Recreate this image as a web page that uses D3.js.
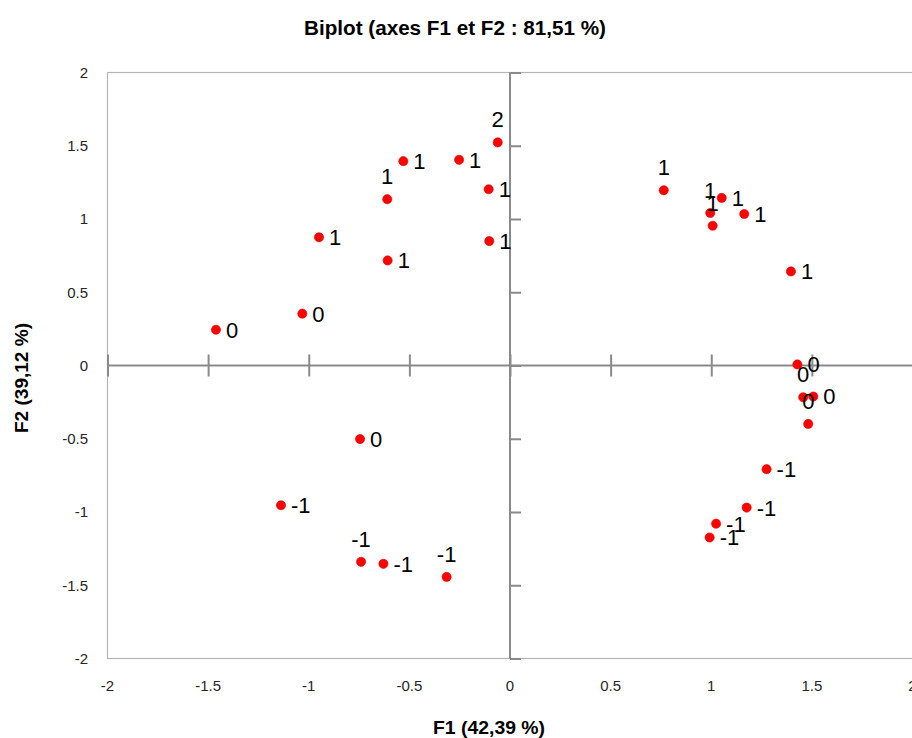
<!DOCTYPE html>
<html><head><meta charset="utf-8">
<script src="https://cdn.jsdelivr.net/npm/d3@7"></script>
<style>
html,body{margin:0;padding:0;background:#fff;overflow:hidden;}
svg{display:block;}
</style></head>
<body>
<svg id="chart" width="912" height="738"></svg>
<script>
// ---- data ----
const f1 = [-1.461,-1.032,-0.949,-0.608,-0.610,-0.530,-0.253,-0.106,-0.103,-0.061,
             0.764, 1.052, 0.995, 1.007, 1.164, 1.396, 1.428, 1.457, 1.507, 1.482,
             1.275, 1.176, 1.024, 0.992,-0.745,-1.138,-0.740,-0.629,-0.315];
const f2 = [ 0.244, 0.354, 0.875, 0.717, 1.135, 1.395, 1.404, 1.203, 0.849, 1.523,
             1.196, 1.144, 1.041, 0.954, 1.034, 0.642, 0.007,-0.217,-0.212,-0.399,
            -0.708,-0.970,-1.080,-1.174,-0.502,-0.954,-1.340,-1.354,-1.443];
const pointLabels = ["0","0","1","1","1","1","1","1","1","2",
                     "1","1","1","1","1","1","0","0","0","0",
                     "-1","-1","-1","-1","0","-1","-1","-1","-1"];
const labelAbove = [false,false,false,false,true,false,false,false,false,true,
                    true,false,true,true,false,false,false,true,false,true,
                    false,false,false,false,false,false,true,false,true];
const xTicks = [-2,-1.5,-1,-0.5,0,0.5,1,1.5,2];
const yTicks = [-2,-1.5,-1,-0.5,0,0.5,1,1.5,2];
const title = "Biplot (axes F1 et F2 : 81,51 %)";
const xTitle = "F1 (42,39 %)";
const yTitle = "F2 (39,12 %)";

// ---- layout ----
const svg = d3.select("#chart");
const x = d3.scaleLinear().domain([-2,2]).range([107.5,912.5]);
const y = d3.scaleLinear().domain([-2,2]).range([658.5,72.5]);
const font = "'Liberation Sans Narrow','Liberation Sans',Arial,sans-serif";
const frameCol = "#b5b5b5", axisCol = "#8a8a8a";

// frame
svg.append("rect").attr("x",x(-2)).attr("y",y(2)).attr("width",x(2)-x(-2)+20).attr("height",y(-2)-y(2))
  .attr("fill","none").attr("stroke",frameCol).attr("stroke-width",1.2);

// x axis through origin
const xAxisG = svg.append("g").attr("transform",`translate(0,${y(0)})`)
  .call(d3.axisBottom(x).tickValues(xTicks).tickSize(11).tickFormat(""));
xAxisG.select(".domain").remove();
xAxisG.selectAll(".tick line").attr("y1",-11).attr("stroke",axisCol).attr("stroke-width",2);
svg.append("line").attr("x1",x(-2)).attr("x2",x(2)+5).attr("y1",y(0)).attr("y2",y(0))
  .attr("stroke",axisCol).attr("stroke-width",2);

// y axis through origin
const yAxisG = svg.append("g").attr("transform",`translate(${x(0)},0)`)
  .call(d3.axisLeft(y).tickValues(yTicks).tickSize(11).tickFormat(""));
yAxisG.select(".domain").remove();
yAxisG.selectAll(".tick line").attr("x2",11).attr("stroke",axisCol).attr("stroke-width",2);
svg.append("line").attr("x1",x(0)).attr("x2",x(0)).attr("y1",y(2)).attr("y2",y(-2))
  .attr("stroke",axisCol).attr("stroke-width",2);

// tick labels
const fmt = d => String(d);
svg.append("g").selectAll("text").data(xTicks).join("text")
  .attr("x",d=>x(d)).attr("y",691).attr("text-anchor","middle")
  .attr("font-family",font).attr("font-size",15).attr("fill","#262626").text(fmt);
svg.append("g").selectAll("text").data(yTicks).join("text")
  .attr("x",88).attr("y",d=>y(d)).attr("dy","0.35em").attr("text-anchor","end")
  .attr("font-family",font).attr("font-size",15).attr("fill","#262626").text(fmt);

// titles
svg.append("text").attr("x",455).attr("y",35).attr("text-anchor","middle")
  .attr("font-family",font).attr("font-weight","bold").attr("font-size",20)
  .attr("textLength",302).attr("lengthAdjust","spacingAndGlyphs").attr("fill","#000").text(title);
svg.append("text").attr("x",489).attr("y",734).attr("text-anchor","middle")
  .attr("font-family",font).attr("font-weight","bold").attr("font-size",18)
  .attr("textLength",112).attr("lengthAdjust","spacingAndGlyphs").attr("fill","#000").text(xTitle);
svg.append("text").attr("transform","translate(28,378) rotate(-90)").attr("text-anchor","middle")
  .attr("font-family",font).attr("font-weight","bold").attr("font-size",18)
  .attr("textLength",110).attr("lengthAdjust","spacingAndGlyphs").attr("fill","#000").text(yTitle);

// points
const idx = d3.range(f1.length);
svg.append("g").selectAll("circle").data(idx).join("circle")
  .attr("cx",i=>x(f1[i])).attr("cy",i=>y(f2[i])).attr("r",4.6)
  .attr("fill","#ff0000").attr("stroke","#e00000").attr("stroke-width",0.6);

// point labels
const lblFont = "'Liberation Sans',Arial,sans-serif";
svg.append("g").selectAll("text").data(idx).join("text")
  .attr("x",i=>labelAbove[i] ? x(f1[i]) : x(f1[i])+10)
  .attr("y",i=>labelAbove[i] ? y(f2[i])-15 : y(f2[i]))
  .attr("dy",i=>labelAbove[i] ? "0" : "0.36em")
  .attr("text-anchor",i=>labelAbove[i] ? "middle" : "start")
  .attr("font-family",lblFont).attr("font-size",22).attr("fill","#000")
  .text(i=>pointLabels[i]);
</script>
</body></html>
